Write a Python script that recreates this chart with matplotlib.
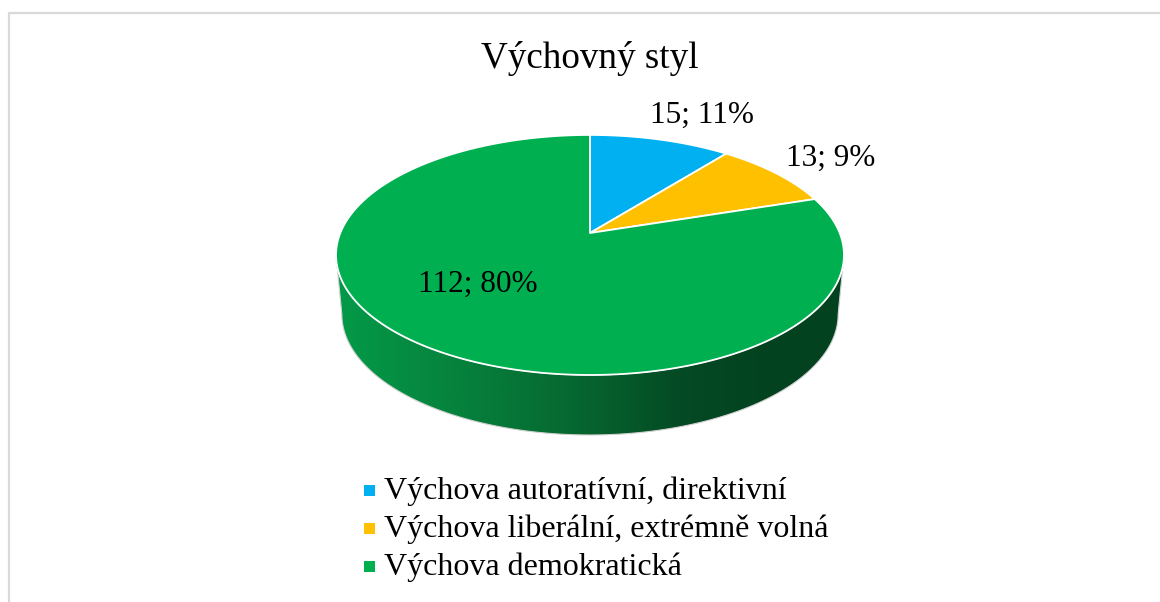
import numpy as np
import matplotlib
matplotlib.use("Agg")
import matplotlib.pyplot as plt
from matplotlib.patches import Rectangle, Polygon
from matplotlib.colors import LinearSegmentedColormap

plt.rcParams['font.family'] = ['Liberation Serif', 'DejaVu Serif']

# data
title = "Výchovný styl"
categories = ["Výchova autoratívní, direktivní",
              "Výchova liberální, extrémně volná",
              "Výchova demokratická"]
counts = [15, 13, 112]
percent_labels = ["11%", "9%", "80%"]
colors = ["#00B0F0", "#FFC000", "#00B050"]

W, H = 1160, 602
fig = plt.figure(figsize=(W / 100, H / 100), dpi=100)
ax = fig.add_axes([0, 0, 1, 1])
ax.axis("off")

# chart frame, only top and left are visible in the screenshot
ax.plot([9, 9, W], [H, 13, 13], color="#D9D9D9", lw=1.6)

# tilted pie: circle coordinates go through a perspective projection
cx, cy = 590, 233
a, b, k = 116.0, 249.7, 0.183
depth = 60


def project(theta, r=1.0):
    # theta is clockwise from the top
    u, v = r * np.sin(theta), r * np.cos(theta)
    w = 1 + k * v
    return cx + b * u / w, cy - a * v / w


def rim_bottom(theta):
    x, y = project(theta)
    # the lower rim is slightly narrower and lies lower at the front
    return cx + (x - cx) * 0.977, y + depth * (0.97 + 0.03 * (1 - np.cos(theta)) / 2)


# side wall: horizontal gradient clipped to the wall outline
side_cmap = LinearSegmentedColormap.from_list(
    "side", [(0, "#039A48"), (0.2, "#06863F"), (0.45, "#066A31"),
             (0.68, "#044A24"), (0.85, "#03421F"), (1, "#03421F")])
front = np.linspace(np.pi / 2 + 0.184, 3 * np.pi / 2 - 0.184, 300)
xt, yt = project(front)
xb, yb = rim_bottom(front)
wall_x = np.r_[xt, xb[::-1]]
wall_y = np.r_[yt, yb[::-1]]
wall = Polygon(np.c_[wall_x, wall_y], closed=True, facecolor="none",
               edgecolor="#D0D0D0", lw=0.8, zorder=2)
ax.add_patch(wall)
gradient = np.linspace(0, 1, 512)[None, :]
im = ax.imshow(gradient, cmap=side_cmap, aspect="auto", zorder=1,
               extent=(wall_x.min(), wall_x.max(), wall_y.max(), wall_y.min()))
im.set_clip_path(wall)

ax.set_xlim(0, W)
ax.set_ylim(H, 0)

# top face wedges from the values
fractions = np.array(counts) / sum(counts)
edges = np.r_[0, np.cumsum(fractions)] * 2 * np.pi
for start, end, color in zip(edges[:-1], edges[1:], colors):
    th = np.linspace(start, end, 200)
    x, y = project(th)
    ax.fill(np.r_[cx, x], np.r_[cy, y], facecolor=color,
            edgecolor="white", lw=1.3, joinstyle="round", zorder=3)

fig.text(590 / W, 1 - 58 / H, title, fontsize=26.7, ha="center", va="center")

# data labels
label_pos = [(702, 115), (831, 158), (478, 284)]
for (lx, ly), n, pct in zip(label_pos, counts, percent_labels):
    ax.text(lx, ly, "%d; %s" % (n, pct), fontsize=22.5, ha="center", va="center", zorder=4)

# legend
legend_y = [490, 528, 566]
for ly, name, color in zip(legend_y, categories, colors):
    ax.add_patch(Rectangle((364, ly - 5.5), 11, 11, facecolor=color, lw=0))
    ax.text(384, ly + 1, name, fontsize=23, ha="left", va="center")

fig.savefig("out.png", dpi=100)
